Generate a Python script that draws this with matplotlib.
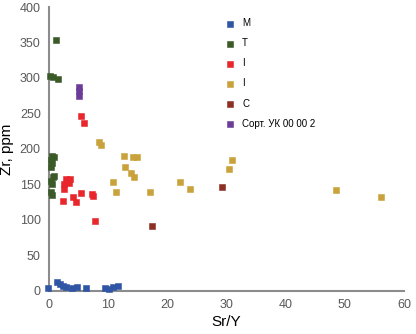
import matplotlib
matplotlib.use("Agg")
import matplotlib.pyplot as plt

plt.rcParams['font.family'] = ['Liberation Sans', 'DejaVu Sans']

# Sr/Y and Zr (ppm) for each group
blue_x = [-0.2, 1.3, 1.8, 2.3, 2.9, 3.8, 4.7, 6.2, 9.4, 10.2, 10.8, 11.6]
blue_y = [4, 13, 10, 7, 5, 4, 5, 4, 4, 3, 5, 7]

green_x = [1.2, 0.1, 0.6, 1.5, 0.5, 0.8, 0.3, 0.5, 0.4, 0.6, 0.9, 0.3, 0.5, 0.3, 0.5]
green_y = [353, 303, 302, 298, 190, 188, 185, 180, 175, 160, 162, 155, 150, 140, 135]

red_x = [5.45, 5.85, 2.9, 3.6, 3.35, 2.6, 2.5, 5.4, 7.25, 7.4, 2.35, 4.0, 4.5, 7.75]
red_y = [246, 236, 157, 157, 152, 151, 143, 138, 137, 134, 127, 132, 125, 99]

gold_x = [8.5, 8.7, 12.6, 14.2, 14.9, 12.8, 13.8, 14.4, 10.8, 11.3, 17.0,
          22.2, 23.9, 30.4, 31.0, 48.5, 56.1]
gold_y = [210, 206, 190, 189, 189, 175, 166, 160, 154, 139, 139,
          153, 144, 172, 185, 142, 133]

brown_x = [17.4, 29.3]
brown_y = [91, 146]

purple_x = [5.0, 5.0, 5.0]
purple_y = [287, 281, 275]

groups = [
    (blue_x, blue_y, '#2f55a4', 'M'),
    (green_x, green_y, '#3a5a28', 'T'),
    (red_x, red_y, '#e8262b', 'I'),
    (gold_x, gold_y, '#c9a23c', 'I'),
    (brown_x, brown_y, '#8c2f24', 'C'),
    (purple_x, purple_y, '#6b3c98', 'Сорт. УК 00 00 2'),
]

fig = plt.figure(figsize=(4.16, 3.34), dpi=100)
ax = fig.add_axes([0.118, 0.129, 0.853, 0.85])

for x, y, col, lab in groups:
    ax.scatter(x, y, marker='s', s=21, color=col, edgecolors=col,
               linewidths=0.4, label=lab, clip_on=False, zorder=3)

ax.set_xlim(0, 60)
ax.set_ylim(0, 400)
ax.set_xticks(range(0, 61, 10))
ax.set_yticks(range(0, 401, 50))
ax.tick_params(length=0, labelsize=9, labelcolor='#595959', pad=6)

for s in ['top', 'right']:
    ax.spines[s].set_visible(False)
for s in ['left', 'bottom']:
    ax.spines[s].set_color('#8c8c8c')
    ax.spines[s].set_linewidth(1.5)

ax.set_xlabel('Sr/Y', fontsize=11, labelpad=3)
ax.set_ylabel('Zr, ppm', fontsize=11, labelpad=4)

ax.legend(loc='upper left', bbox_to_anchor=(0.462, 0.985), frameon=False,
          fontsize=7, handletextpad=0.3, labelspacing=1.04,
          markerscale=1.0, borderaxespad=0.3)

fig.savefig('out.png', dpi=100)
